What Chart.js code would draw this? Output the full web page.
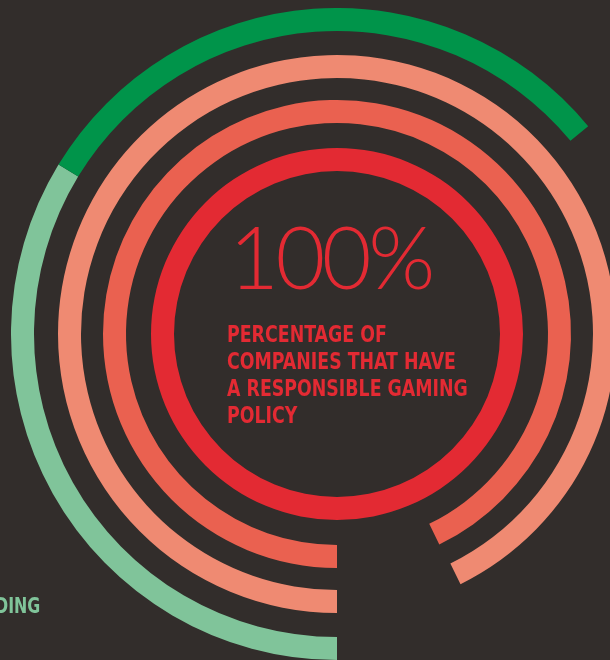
<!DOCTYPE html>
<html>
<head>
<meta charset="utf-8">
<script src="https://cdn.jsdelivr.net/npm/chart.js@4.4.0/dist/chart.umd.min.js"></script>
<style>
    html, body {
        margin: 0;
        padding: 0;
        width: 610px;
        height: 660px;
        overflow: hidden;
        background: #322d2b;
    }
    #wrap {
        position: absolute;
        left: 11px;
        top: 8px;
        width: 652px;
        height: 652px;
    }
    .big {
        position: absolute;
        left: 229px;
        top: 204px;
        font-family: Lato, "Open Sans", sans-serif;
        font-weight: 300;
        font-size: 86px;
        color: #e32a33;
        letter-spacing: -3.5px;
        white-space: nowrap;
    }
    .label {
        position: absolute;
        left: 227px;
        top: 321px;
        font-family: "Liberation Sans Narrow", "DejaVu Sans Condensed", sans-serif;
        font-weight: bold;
        font-size: 23px;
        line-height: 27px;
        color: #e32a33;
        white-space: nowrap;
        transform: scaleX(0.84);
        transform-origin: left top;
    }
    .cut {
        position: absolute;
        left: -5px;
        top: 593px;
        font-family: "Liberation Sans Narrow", "DejaVu Sans Condensed", sans-serif;
        font-weight: bold;
        font-size: 22px;
        color: #80c49a;
        white-space: nowrap;
        transform: scaleX(0.8);
        transform-origin: left top;
    }
</style>
</head>
<body>
<div id="wrap"><canvas id="chart"></canvas></div>
<div class="big">100%</div>
<div class="label">PERCENTAGE OF<br>COMPANIES THAT HAVE<br>A RESPONSIBLE GAMING<br>POLICY</div>
<div class="cut">DING</div>
<script>
// anneaux, de l'extérieur vers l'intérieur (valeurs en %)
const outerRing = [33.7, 30.3];   // vert clair, vert foncé
const ring3 = [92.7];             // saumon
const ring2 = [92.8];             // corail
const innerRing = [100];          // rouge

const colors = {
    bg: '#322d2b',
    red: '#e32a33',
    coral: '#ea6150',
    salmon: '#ef8a72',
    green: '#00944a',
    lightGreen: '#80c49a'
};

function reste(values) {
    const total = values.reduce((a, b) => a + b, 0);
    return Math.max(100 - total, 0);
}

function anneau(values, couleurs, poids) {
    return {
        data: values.concat([reste(values)]),
        backgroundColor: couleurs.concat(['rgba(0,0,0,0)']),
        borderWidth: 0,
        weight: poids
    };
}

// espace vide entre deux anneaux
function espace(poids) {
    return {
        data: [100],
        backgroundColor: ['rgba(0,0,0,0)'],
        borderWidth: 0,
        weight: poids
    };
}

let chart;

document.addEventListener("DOMContentLoaded", function () {
    const ctx = document.getElementById('chart').getContext('2d');
    chart = new Chart(ctx, {
        type: 'doughnut',
        data: {
            datasets: [
                anneau(outerRing, [colors.lightGreen, colors.green], 23),
                espace(24),
                anneau(ring3, [colors.salmon], 23),
                espace(22),
                anneau(ring2, [colors.coral], 23),
                espace(25),
                anneau(innerRing, [colors.red], 23)
            ]
        },
        options: {
            responsive: true,
            maintainAspectRatio: false,
            animation: false,
            rotation: 180,
            radius: 326,
            cutout: 163,
            layout: { padding: 0 },
            plugins: {
                legend: { display: false },
                tooltip: { enabled: false }
            }
        }
    });
});
</script>
</body>
</html>
